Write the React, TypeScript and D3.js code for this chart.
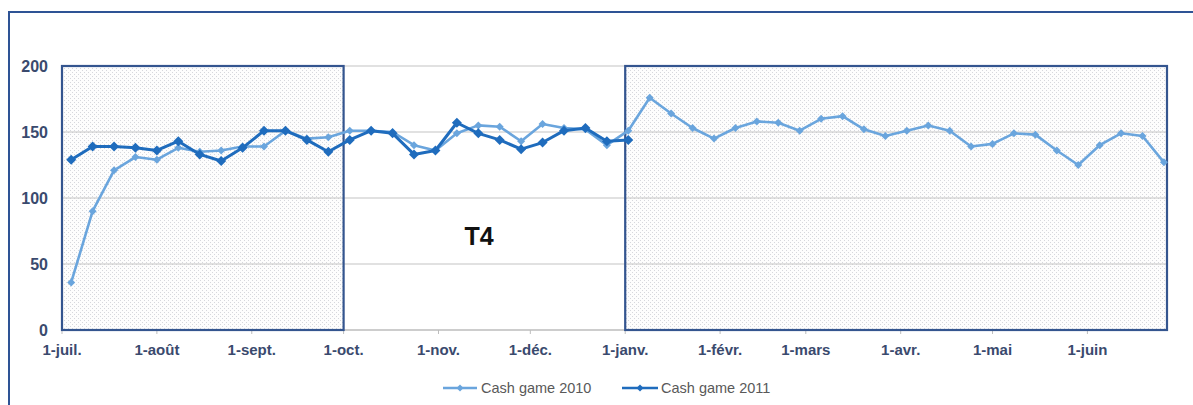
import React from "react";
import * as d3 from "d3";

const monthLabels = ["1-juil.", "1-août", "1-sept.", "1-oct.", "1-nov.", "1-déc.", "1-janv.", "1-févr.", "1-mars", "1-avr.", "1-mai", "1-juin"];
const yTicks = [0, 50, 100, 150, 200];

const cash2010 = [36, 90, 121, 131, 129, 138, 135, 136, 139, 139, 151, 145, 146, 151, 151, 150,
  140, 136, 149, 155, 154, 143, 156, 153, 152, 140, 151,
  176, 164, 153, 145, 153, 158, 157, 151, 160, 162, 152, 147, 151, 155, 151, 139, 141, 149, 148, 136, 125, 140, 149, 147, 127];
const cash2011 = [129, 139, 139, 138, 136, 143, 133, 128, 138, 151, 151, 144, 135, 144, 151, 149,
  133, 136, 157, 149, 144, 137, 142, 151, 153, 143, 144];

const seriesNames = ["Cash game 2010", "Cash game 2011"];
const startDate = new Date(2010, 6, 4);
const domainStart = new Date(2010, 6, 1);
const domainEnd = new Date(2011, 5, 27);
const highlightA = [new Date(2010, 6, 1), new Date(2010, 9, 1)];
const highlightB = [new Date(2011, 0, 1), domainEnd];

const W = 1193;
const H = 405;
const left = 62, right = 1167, top = 66, bottom = 330;

export default function App() {
  const x = d3.scaleTime().domain([domainStart, domainEnd]).range([left, right]);
  const y = d3.scaleLinear().domain([0, 200]).range([bottom, top]);
  const months = d3.timeMonth.range(domainStart, domainEnd);
  const dateAt = (i: number) => d3.timeDay.offset(startDate, 7 * i);
  const line = d3.line<number>().x((_, i) => x(dateAt(i))).y((v) => y(v));
  const diamond = (cx: number, cy: number, r: number) =>
    `M${cx},${cy - r}L${cx + r},${cy}L${cx},${cy + r}L${cx - r},${cy}Z`;

  const c2010 = "#6aa5dd";
  const c2011 = "#1f6cbd";
  const axisText = "#3a4a6e";
  const font = "'Liberation Sans', Arial, sans-serif";

  return (
    <svg width={W} height={H} style={{ position: "absolute", left: 0, top: 0, background: "#fff" }}>
      <defs>
        <pattern id="dots" width="4" height="4" patternUnits="userSpaceOnUse">
          <rect width="4" height="4" fill="#fdfdfd" />
          <rect x="0" y="0" width="1" height="1" fill="#d6d7dc" />
          <rect x="2" y="2" width="1" height="1" fill="#d6d7dc" />
        </pattern>
      </defs>
      <path d={`M9,${H}L9,12L${W},12`} fill="none" stroke="#2e5395" strokeWidth={2} />

      {[highlightA, highlightB].map((r, i) => (
        <rect key={"bg" + i} x={x(r[0])} y={top} width={x(r[1]) - x(r[0])} height={bottom - top} fill="url(#dots)" />
      ))}

      {yTicks.filter((t) => t > 0).map((t) => (
        <line key={"g" + t} x1={left} x2={right} y1={y(t)} y2={y(t)} stroke="#c4c4c4" strokeWidth={1.2} />
      ))}
      <line x1={left} x2={right} y1={y(0)} y2={y(0)} stroke="#bdbdbd" strokeWidth={1.5} />
      {months.map((m, i) => (
        <line key={"tk" + i} x1={x(m)} x2={x(m)} y1={bottom} y2={bottom + 4} stroke="#bdbdbd" strokeWidth={1} />
      ))}

      {[highlightA, highlightB].map((r, i) => (
        <rect key={"bx" + i} x={x(r[0])} y={top} width={x(r[1]) - x(r[0])} height={bottom - top} fill="none" stroke="#34558f" strokeWidth={2.2} />
      ))}

      {yTicks.map((t) => (
        <text key={"yl" + t} x={48} y={y(t)} dy="0.35em" textAnchor="end" fontFamily={font} fontWeight="bold" fontSize={16} fill={axisText}>
          {t}
        </text>
      ))}
      {months.map((m, i) => (
        <text key={"xl" + i} x={x(m)} y={350} dy="0.35em" textAnchor="middle" fontFamily={font} fontWeight="bold" fontSize={15} fill={axisText}>
          {monthLabels[i]}
        </text>
      ))}

      <path d={line(cash2010) || ""} fill="none" stroke={c2010} strokeWidth={2.6} strokeLinejoin="round" />
      {cash2010.map((v, i) => (
        <path key={"m10" + i} d={diamond(x(dateAt(i)), y(v), 4)} fill={c2010} />
      ))}
      <path d={line(cash2011) || ""} fill="none" stroke={c2011} strokeWidth={3} strokeLinejoin="round" />
      {cash2011.map((v, i) => (
        <path key={"m11" + i} d={diamond(x(dateAt(i)), y(v), 5)} fill={c2011} />
      ))}

      <text x={479} y={236} dy="0.35em" textAnchor="middle" fontFamily={font} fontWeight="bold" fontSize={25} fill="#111">
        T4
      </text>

      <line x1={443} x2={477} y1={388} y2={388} stroke={c2010} strokeWidth={2.5} />
      <path d={diamond(460, 388, 3.5)} fill={c2010} />
      <text x={481} y={388} dy="0.35em" fontFamily={font} fontSize={14.5} fill="#595959">{seriesNames[0]}</text>
      <line x1={622} x2={658} y1={388} y2={388} stroke={c2011} strokeWidth={2.5} />
      <path d={diamond(640, 388, 3.5)} fill={c2011} />
      <text x={661} y={388} dy="0.35em" fontFamily={font} fontSize={14.5} fill="#595959">{seriesNames[1]}</text>
    </svg>
  );
}
